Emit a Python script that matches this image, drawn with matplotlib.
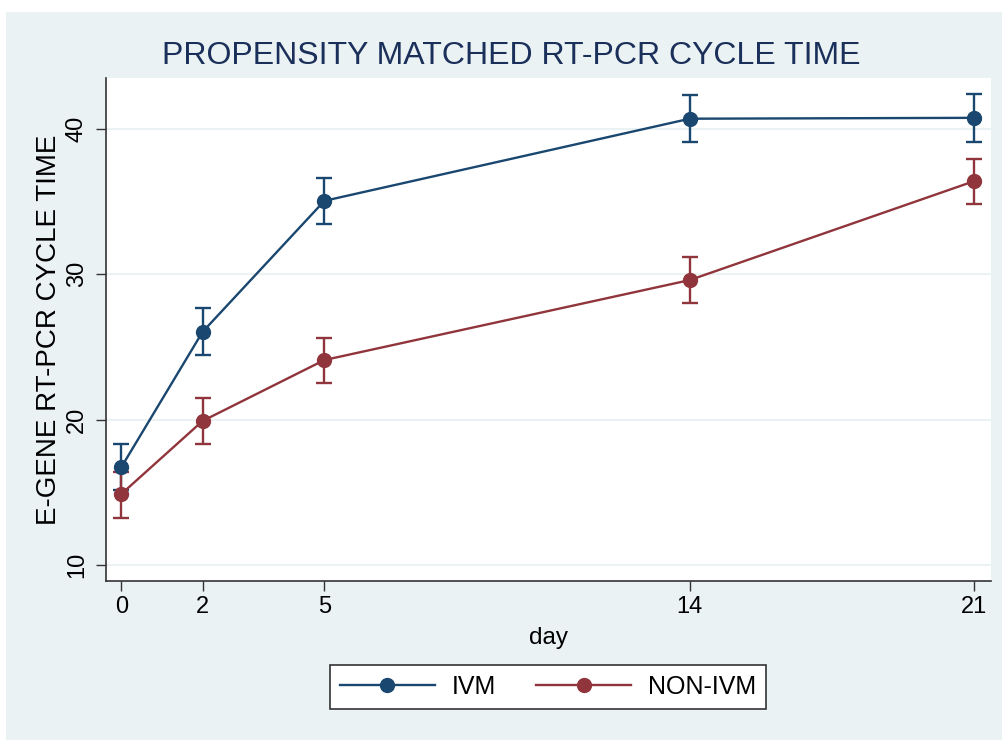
import matplotlib
matplotlib.use("Agg")
import matplotlib.pyplot as plt
from matplotlib.patches import Rectangle
from matplotlib.lines import Line2D

days = [0, 2, 5, 14, 21]
ivm_mean = [16.74, 26.04, 35.05, 40.70, 40.76]
ivm_lo = [15.15, 24.45, 33.45, 39.10, 39.10]
ivm_hi = [18.35, 27.69, 36.62, 42.35, 42.40]
non_mean = [14.89, 19.91, 24.10, 29.60, 36.40]
non_lo = [13.26, 18.30, 22.50, 28.05, 34.82]
non_hi = [16.40, 21.50, 25.62, 31.18, 37.94]
yticks = [10, 20, 30, 40]
title = "PROPENSITY MATCHED RT-PCR CYCLE TIME"
xlabel = "day"
ylabel = "E-GENE RT-PCR CYCLE TIME"
series_names = ["IVM", "NON-IVM"]

plt.rcParams['font.family'] = ['Liberation Sans', 'DejaVu Sans']

C_IVM = "#1a476f"
C_NON = "#90353b"
BG = "#eaf2f3"
AX = "#333333"

fig = plt.figure(figsize=(10.03, 7.40), dpi=100, facecolor="white")
bg = fig.add_axes([0, 0, 1, 1], zorder=-10)
bg.set_axis_off()
bg.set_xlim(0, 1003)
bg.set_ylim(740, 0)
bg.add_patch(Rectangle((6, 12), 1003 - 6, 740 - 12, facecolor=BG,
                       edgecolor="none"))

ax = fig.add_axes([106/1003, 1 - 581/740, (991 - 106)/1003, (581 - 78)/740],
                  zorder=1)
ax.set_facecolor("white")

for yv in yticks:
    ax.axhline(yv, color=BG, lw=1.5, zorder=1)

def draw(mean, lo, hi, color):
    yerr = [[m - l for m, l in zip(mean, lo)], [h - m for m, h in zip(mean, hi)]]
    ax.errorbar(days, mean, yerr=yerr, fmt="none", ecolor=color,
                elinewidth=1.7, capsize=6, capthick=1.7, zorder=3)
    ax.plot(days, mean, color=color, lw=1.7, marker="o", markersize=10,
            zorder=4)

draw(ivm_mean, ivm_lo, ivm_hi, C_IVM)
draw(non_mean, non_lo, non_hi, C_NON)

ax.set_xlim(-0.38, 21.42)
ax.set_ylim(8.9, 43.5)
ax.set_xticks(days)
ax.set_yticks(yticks)
ax.tick_params(axis="both", direction="out", length=7, width=1,
               color=AX, labelsize=17)
ax.tick_params(axis="x", pad=4)
ax.tick_params(axis="y", labelrotation=90, pad=6)
for lbl in ax.get_yticklabels():
    lbl.set_verticalalignment("center")
for s in ["top", "right"]:
    ax.spines[s].set_visible(False)
for s in ["left", "bottom"]:
    ax.spines[s].set_color(AX)
    ax.spines[s].set_linewidth(1.2)

ax.set_xlabel(xlabel, fontsize=17.5, labelpad=6)
ax.set_ylabel(ylabel, fontsize=20, labelpad=3)

fig.text(511/1003, 1 - 56/740, title, ha="center", va="center",
         fontsize=23, color="#1a2f5a")

handles = [Line2D([], [], color=C_IVM, lw=1.7, marker="o", markersize=10),
           Line2D([], [], color=C_NON, lw=1.7, marker="o", markersize=10)]
leg = fig.legend(handles, series_names, loc="center",
                 bbox_to_anchor=(548/1003, 1 - 687/740), ncol=2,
                 fontsize=18, handlelength=3.8, numpoints=1,
                 frameon=True, fancybox=False, columnspacing=1.6,
                 handletextpad=0.68, borderpad=0.4, borderaxespad=0)
leg.get_frame().set_edgecolor(AX)
leg.get_frame().set_linewidth(1.2)
leg.get_frame().set_facecolor("white")
leg.get_frame().set_alpha(1)

fig.savefig("out.png", dpi=100, facecolor="white")
